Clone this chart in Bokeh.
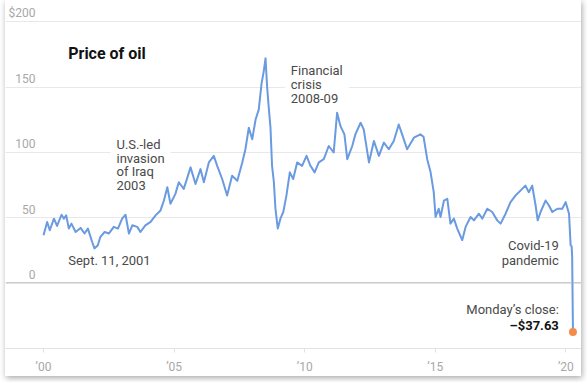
from bokeh.plotting import figure
from bokeh.models import Range1d, FixedTicker, Span
from bokeh.embed import file_html
from bokeh.resources import INLINE
from bokeh.core.properties import value

# ---- data (inflation-adjusted oil price) ----
years = [2000.00, 2000.14, 2000.24, 2000.40, 2000.52, 2000.69, 2000.78, 2000.87, 2000.97,
         2001.07, 2001.23, 2001.42, 2001.57, 2001.70, 2001.86, 2001.95, 2002.08, 2002.18,
         2002.34, 2002.50, 2002.69, 2002.85, 2003.01, 2003.14, 2003.27, 2003.40, 2003.59,
         2003.71, 2003.90, 2004.10, 2004.29, 2004.48, 2004.61, 2004.74, 2004.86, 2005.05,
         2005.18, 2005.37, 2005.63, 2005.82, 2006.01, 2006.14, 2006.33, 2006.52, 2006.65,
         2006.84, 2007.03, 2007.22, 2007.42, 2007.61, 2007.73, 2007.86, 2007.99, 2008.12,
         2008.24, 2008.35, 2008.43, 2008.50, 2008.56, 2008.62, 2008.69, 2008.75, 2008.82,
         2008.88, 2008.97, 2009.07, 2009.18, 2009.30, 2009.43, 2009.56, 2009.71, 2009.90,
         2010.07, 2010.22, 2010.38, 2010.54, 2010.73, 2010.92, 2011.11, 2011.24, 2011.37,
         2011.52, 2011.63, 2011.82, 2011.94, 2012.14, 2012.26, 2012.46, 2012.65, 2012.84,
         2013.03, 2013.22, 2013.41, 2013.60, 2013.73, 2013.92, 2014.18, 2014.43, 2014.55,
         2014.69, 2014.82, 2014.94, 2015.01, 2015.13, 2015.20, 2015.33, 2015.46, 2015.58,
         2015.71, 2015.84, 2016.03, 2016.16, 2016.35, 2016.48, 2016.67, 2016.80, 2016.99,
         2017.18, 2017.37, 2017.50, 2017.69, 2017.88, 2018.07, 2018.26, 2018.45, 2018.58,
         2018.71, 2018.84, 2018.92, 2019.03, 2019.22, 2019.35, 2019.48, 2019.67, 2019.86,
         2019.99, 2020.12, 2020.18, 2020.22, 2020.24, 2020.27]
prices = [36.5, 46.7, 40.3, 49.2, 43.6, 52.2, 49.2, 51.7, 41.6,
          45.4, 39.0, 42.1, 37.8, 41.6, 31.5, 26.4, 28.9, 35.3,
          39.0, 37.8, 42.9, 41.6, 49.2, 52.2, 37.8, 44.1, 42.9,
          39.0, 44.1, 46.7, 51.7, 55.5, 63.1, 73.3, 60.6, 68.2,
          77.1, 72.0, 88.5, 75.8, 87.2, 77.1, 92.3, 97.3, 89.7,
          79.6, 66.9, 82.1, 78.3, 92.3, 102.4, 118.9, 110.0, 125.2,
          132.8, 153.1, 161.9, 172.1, 150.5, 135.3, 118.9, 89.7, 77.1,
          56.8, 41.6, 49.2, 54.3, 66.9, 84.7, 79.6, 92.3, 89.7,
          97.3, 89.7, 84.7, 92.3, 94.8, 104.9, 99.9, 130.3, 120.1,
          113.8, 94.8, 104.9, 113.8, 122.7, 117.6, 92.3, 108.7, 97.3,
          107.5, 102.4, 108.7, 121.4, 113.8, 102.4, 111.3, 113.8, 112.0,
          94.8, 84.7, 69.5, 50.5, 56.8, 50.5, 63.1, 64.4, 45.4,
          49.2, 41.6, 32.7, 42.9, 50.5, 47.9, 53.0, 49.2, 56.8,
          54.3, 47.9, 45.4, 53.0, 61.9, 66.9, 70.7, 74.5, 69.5,
          74.5, 59.3, 47.9, 54.3, 63.1, 59.3, 54.3, 56.8, 56.8,
          61.9, 53.0, 28.9, 28.0, 20.0, -37.63]
close_year = [2020.27]
close_price = [-37.63]

tick_years = [2000, 2005, 2010, 2015, 2020]
tick_labels = ["\u201900", "\u201905", "\u201910", "\u201915", "\u201920"]
grid_values = [0, 50, 100, 150, 200]
grid_labels = ["0", "50", "100", "150", "$200"]

FONT = "Roboto"
LINE = "#6a9ae0"

p = figure(width=576, height=376,
           x_range=Range1d(1998.545, 2020.597), y_range=Range1d(-50.3, 216.4),
           output_backend="svg", toolbar_location=None,
           min_border_left=0, min_border_right=0, min_border_top=0, min_border_bottom=25)
p.styles = {"margin-left": "5px", "box-shadow": "1px 2px 6px rgba(0,0,0,0.35)"}
p.outline_line_color = None
p.background_fill_color = "white"
p.border_fill_color = "white"

# axes / grid
p.yaxis.visible = False
p.xgrid.visible = False
p.ygrid.ticker = FixedTicker(ticks=grid_values[1:])
p.ygrid.grid_line_color = "#e8e8e8"
p.ygrid.grid_line_width = 1

xa = p.xaxis[0]
xa.ticker = FixedTicker(ticks=tick_years)
xa.major_label_overrides = {y: l for y, l in zip(tick_years, tick_labels)}
xa.axis_line_color = "#e2e2e2"
xa.major_tick_line_color = "#e2e2e2"
xa.major_tick_out = 4
xa.major_tick_in = 0
xa.minor_tick_line_color = None
xa.major_label_text_color = "#a8a8a8"
xa.major_label_text_font = FONT
xa.major_label_text_font_size = "12px"
xa.major_label_standoff = 7

p.add_layout(Span(location=0, dimension="width", line_color="#b0b0b0", line_width=1))

# y labels inside the plot, above gridlines
p.text(x=[1999.694] * len(grid_values), y=grid_values, text=grid_labels,
       text_align="right", text_baseline="middle", y_offset=-8.5,
       text_font=value(FONT), text_font_size="12px", text_color="#a8a8a8")

ANN = "#4a4a4a"
# annotations with white boxes (drawn below the data line)
p.text(x=[2002.565], y=[90.3], text=["U.S.-led\ninvasion\nof Iraq\n2003"], text_align="left",
       text_baseline="middle", text_line_height=0.915,
       text_font=value(FONT), text_font_size="13px", text_color=ANN,
       background_fill_color="white", padding=6)
p.text(x=[2009.238], y=[151.8], text=["Financial\ncrisis\n2008-09"], text_align="left",
       text_baseline="middle", text_line_height=0.94,
       text_font=value(FONT), text_font_size="13px", text_color=ANN,
       background_fill_color="white", padding=6)

# data
p.line(years, prices, line_color=LINE, line_width=2, line_join="round")
p.scatter(close_year, close_price, size=8, fill_color="#f48c47", line_color=None)

# title
p.text(x=[2000.946], y=[175.4], text=["Price of oil"], text_align="left", text_baseline="middle",
       text_font=value(FONT), text_font_size="16px", text_font_style="bold", text_color="#121212")

p.text(x=[2000.946], y=[17.0], text=["Sept. 11, 2001"], text_align="left", text_baseline="middle",
       text_font=value(FONT), text_font_size="13px", text_color=ANN)
p.text(x=[2019.728], y=[23.2], text=["Covid-19\npandemic"], text_align="right",
       text_baseline="middle", text_line_height=0.99,
       text_font=value(FONT), text_font_size="13px", text_color=ANN)
p.text(x=[2019.728], y=[-20.5], text=["Monday\u2019s close:"], text_align="right",
       text_baseline="middle",
       text_font=value(FONT), text_font_size="13px", text_color=ANN)
p.text(x=[2019.728], y=[-32.4], text=["\u2013$37.63"], text_align="right",
       text_baseline="middle",
       text_font=value(FONT), text_font_size="13px", text_font_style="bold", text_color="#121212")

open("out.html", "w").write(file_html(p, INLINE))
